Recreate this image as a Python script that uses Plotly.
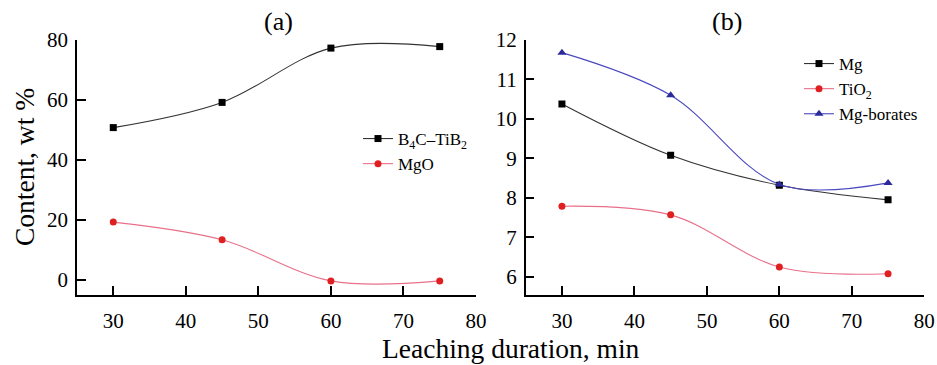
import plotly.graph_objects as go

duration = [30, 45, 60, 75]

# Panel (a)
b4c_tib2 = [50.8, 59.2, 77.3, 77.8]
mgo = [19.3, 13.4, -0.3, -0.3]

# Panel (b)
mg = [10.38, 9.08, 8.32, 7.95]
tio2 = [7.79, 7.57, 6.25, 6.08]
mg_borates = [11.68, 10.60, 8.34, 8.38]

x_ticks = [30, 40, 50, 60, 70, 80]
ya_ticks = [0, 20, 40, 60, 80]
yb_ticks = [6, 7, 8, 9, 10, 11, 12]

FONT = "Liberation Serif"
W, H = 937, 365

fig = go.Figure()

def add(x, y, name, lc, mc, sym, size, xa, ya, legend):
    fig.add_trace(go.Scatter(
        x=x, y=y, name=name, mode="lines+markers",
        line=dict(color=lc, width=1.1, shape="spline", smoothing=1.0),
        marker=dict(color=mc, symbol=sym, size=size, line=dict(width=0)),
        xaxis=xa, yaxis=ya, legend=legend))

add(duration, b4c_tib2, "B<sub>4</sub>C–TiB<sub>2</sub>", "#333333", "#000000", "square", 7, "x", "y", "legend")
add(duration, mgo, "MgO", "#e8708a", "#e02020", "circle", 7, "x", "y", "legend")
add(duration, mg, "Mg", "#333333", "#000000", "square", 7, "x2", "y2", "legend2")
add(duration, tio2, "TiO<sub>2</sub>", "#e8708a", "#e02020", "circle", 7, "x2", "y2", "legend2")
add(duration, mg_borates, "Mg-borates", "#4a48c0", "#2a2a9a", "triangle-up", 8, "x2", "y2", "legend2")

ax_common = dict(showline=True, linecolor="black", linewidth=1.5, ticks="inside",
                 ticklen=9, tickwidth=1.5, tickcolor="black", showgrid=False,
                 zeroline=False, tickfont=dict(family=FONT, size=21, color="black"),
                 automargin=False)

ytop = 1 - 40 / H
ybot = 1 - 295 / H

fig.update_layout(
    width=W, height=H,
    margin=dict(l=0, r=0, t=0, b=0),
    paper_bgcolor="white", plot_bgcolor="white",
    font=dict(family=FONT, color="black"),
    xaxis=dict(domain=[77 / W, 476 / W], range=[25, 80], tickvals=x_ticks,
               anchor="y", ticklabelstandoff=6, **ax_common),
    yaxis=dict(domain=[ybot, ytop], range=[-5, 80], tickvals=ya_ticks,
               anchor="x", ticklabelstandoff=3, **ax_common),
    xaxis2=dict(domain=[525.7 / W, 924.3 / W], range=[25, 80], tickvals=x_ticks,
                anchor="y2", ticklabelstandoff=6, **ax_common),
    yaxis2=dict(domain=[ybot, ytop], range=[5.54, 12], tickvals=yb_ticks,
                anchor="x2", ticklabelstandoff=3, **ax_common),
    legend=dict(x=358 / W, y=1 - 121 / H, xanchor="left", yanchor="top",
                bgcolor="rgba(0,0,0,0)", font=dict(family=FONT, size=17),
                tracegroupgap=0, itemwidth=30),
    legend2=dict(x=799 / W, y=1 - 46 / H, xanchor="left", yanchor="top",
                 bgcolor="rgba(0,0,0,0)", font=dict(family=FONT, size=17),
                 tracegroupgap=0, itemwidth=30),
    showlegend=True,
    annotations=[
        dict(text="(a)", x=278 / W, y=1 - 22 / H, xref="paper", yref="paper",
             xanchor="center", yanchor="middle",
             showarrow=False, font=dict(family=FONT, size=26)),
        dict(text="(b)", x=727 / W, y=1 - 22 / H, xref="paper", yref="paper",
             xanchor="center", yanchor="middle",
             showarrow=False, font=dict(family=FONT, size=26)),
        dict(text="Leaching duration, min", x=511 / W, y=1 - 348 / H, xref="paper",
             yref="paper", xanchor="center", yanchor="middle",
             showarrow=False, font=dict(family=FONT, size=27.5)),
        dict(text="Content, wt %", x=24 / W, y=1 - 167 / H, xref="paper",
             yref="paper", xanchor="center", yanchor="middle",
             showarrow=False, textangle=-90,
             font=dict(family=FONT, size=27.5)),
    ],
)

fig.write_html("out.html", post_script="document.body.style.margin='0';",
               config={"displayModeBar": False})
